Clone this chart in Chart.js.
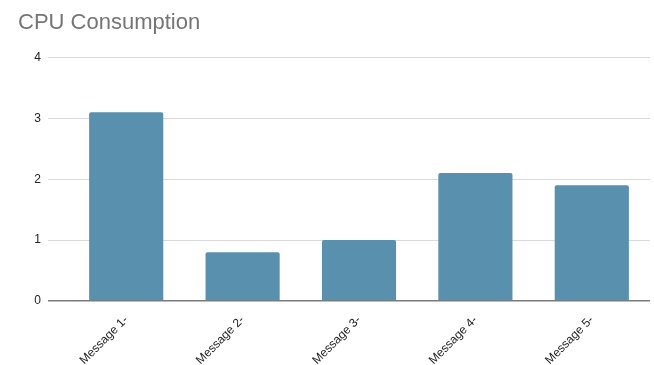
<!DOCTYPE html>
<html>
<head>
<meta charset="utf-8">
<script src="https://cdn.jsdelivr.net/npm/chart.js@4/dist/chart.umd.min.js"></script>
<style>
  html, body { margin: 0; padding: 0; background: #fff; }
  #wrap { width: 654px; height: 365px; }
</style>
</head>
<body>
<div id="wrap"><canvas id="c" width="654" height="365"></canvas></div>
<script>
// CPU usage per message
const categories = ['Message 1-', 'Message 2-', 'Message 3-', 'Message 4-', 'Message 5-'];
const cpuValues = [3.1, 0.8, 1.0, 2.1, 1.9];
const yTicks = [0, 1, 2, 3, 4];

new Chart(document.getElementById('c'), {
  type: 'bar',
  data: {
    labels: categories,
    datasets: [{
      label: 'CPU',
      data: cpuValues,
      backgroundColor: '#5890ad',
      borderWidth: 0,
      borderRadius: { topLeft: 2, topRight: 2 },
      borderSkipped: 'bottom',
      categoryPercentage: 1,
      barPercentage: 0.637
    }]
  },
  options: {
    responsive: false,
    animation: false,
    layout: { padding: { left: 18, right: 4, top: 0, bottom: 0 } },
    plugins: {
      legend: { display: false },
      tooltip: { enabled: false },
      title: {
        display: true,
        text: 'CPU Consumption',
        align: 'start',
        color: '#757575',
        font: { family: 'Arial, "Liberation Sans", sans-serif', size: 22, weight: 'normal' },
        padding: { top: 10, bottom: 21 }
      }
    },
    scales: {
      x: {
        grid: { display: false },
        border: { display: false },
        ticks: {
          color: '#222',
          font: { family: 'Arial, "Liberation Sans", sans-serif', size: 12 },
          minRotation: 45,
          maxRotation: 45,
          padding: 4
        },
        afterFit: (s) => { s.height = 64; }
      },
      y: {
        min: 0,
        max: 4,
        afterBuildTicks: (s) => { s.ticks = yTicks.map(v => ({ value: v })); },
        border: { display: false },
        grid: {
          color: (ctx) => ctx.tick && ctx.tick.value === 0 ? '#7a7a7a' : '#d9d9d9',
          lineWidth: (ctx) => ctx.tick && ctx.tick.value === 0 ? 1.5 : 1,
          drawTicks: true,
          tickLength: 20
        },
        ticks: {
          color: '#222',
          font: { family: 'Arial, "Liberation Sans", sans-serif', size: 12 },
          padding: 7
        },
        afterFit: (s) => { s.width = 50; }
      }
    }
  }
});
</script>
</body>
</html>
